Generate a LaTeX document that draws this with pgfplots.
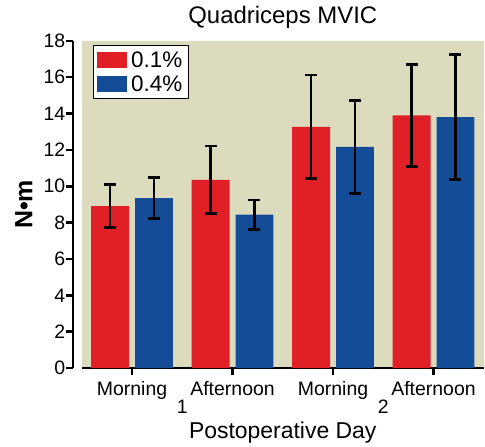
\documentclass[border=0pt]{standalone}
\usepackage{fontspec}
\setmainfont{Liberation Sans}
\usepackage{pgfplots}
\pgfplotsset{compat=1.18}
\definecolor{barred}{RGB}{224,32,38}
\definecolor{barblue}{RGB}{20,76,152}
\definecolor{bgkhaki}{RGB}{220,219,190}
\pgfplotstableread{
x y e
0 8.91 1.19
1 10.36 1.87
2 13.27 2.84
3 13.90 2.81
}\redtab
\pgfplotstableread{
x y e
0 9.35 1.13
1 8.44 0.82
2 12.17 2.56
3 13.81 3.44
}\bluetab
\begin{document}
\begin{tikzpicture}
\begin{axis}[
 scale only axis, width=403pt, height=328pt,
 ybar=6pt, bar width=38pt,
 xmin=-0.5, xmax=3.5, ymin=0, ymax=18,
 xtick={0,1,2,3}, xticklabels={Morning,Afternoon,Morning,Afternoon},
 ytick={0,2,...,18},
 axis x line*=bottom, axis y line*=left, axis y line shift=9pt,
 axis line style={-, line width=2.5pt},
 every outer x axis line/.append style={-},
 every outer y axis line/.append style={-},
 tick align=outside, major tick length=7pt,
 tick style={line width=2.5pt, black},
 axis background/.style={fill=bgkhaki},
 clip=false,
 /pgf/number format/assume math mode=true,
 tick label style={font=\fontsize{19.5}{22}\selectfont},
 yticklabel style={xshift=3pt},
 xticklabel style={anchor=base, yshift=-21pt},
 title={Quadriceps MVIC},
 title style={font=\fontsize{24}{27}\selectfont, anchor=base, at={(axis description cs:0.5,1.0335)}},
 xlabel={Postoperative Day},
 xlabel style={font=\fontsize{23}{26}\selectfont, anchor=base, at={(axis description cs:0.5,-0.2165)}},
 ylabel={N•m},
 ylabel style={font=\bfseries\fontsize{25}{27}\selectfont, anchor=center, at={(axis description cs:-0.144,0.5)}},
 legend style={at={(0.027,0.988)}, anchor=north west, draw=black, line width=1.2pt, fill=white,
   font=\fontsize{22.5}{25}\selectfont, inner xsep=4pt, inner ysep=4pt, row sep=3pt, column sep=2pt},
 legend cell align=left,
 legend image code/.code={\fill[#1] (0pt,-8pt) rectangle (30pt,8pt);},
]
\addplot+[fill=barred, draw=none,
  error bars/.cd, y dir=both, y explicit,
  error bar style={line width=2.5pt, black},
  error mark options={line width=2.5pt, black, mark size=6pt, rotate=90}]
  table[x=x, y=y, y error=e]{\redtab};
\addplot+[fill=barblue, draw=none,
  error bars/.cd, y dir=both, y explicit,
  error bar style={line width=2.5pt, black},
  error mark options={line width=2.5pt, black, mark size=6pt, rotate=90}]
  table[x=x, y=y, y error=e]{\bluetab};
\legend{0.1\%, 0.4\%}
\node[anchor=base, yshift=-46pt, font=\fontsize{19.5}{22}\selectfont] at (axis cs:0.5,0) {1};
\node[anchor=base, yshift=-46pt, font=\fontsize{19.5}{22}\selectfont] at (axis cs:2.5,0) {2};
\path (rel axis cs:-0.2035,1.125) rectangle (rel axis cs:1,-0.2287);
\end{axis}
\end{tikzpicture}
\end{document}
